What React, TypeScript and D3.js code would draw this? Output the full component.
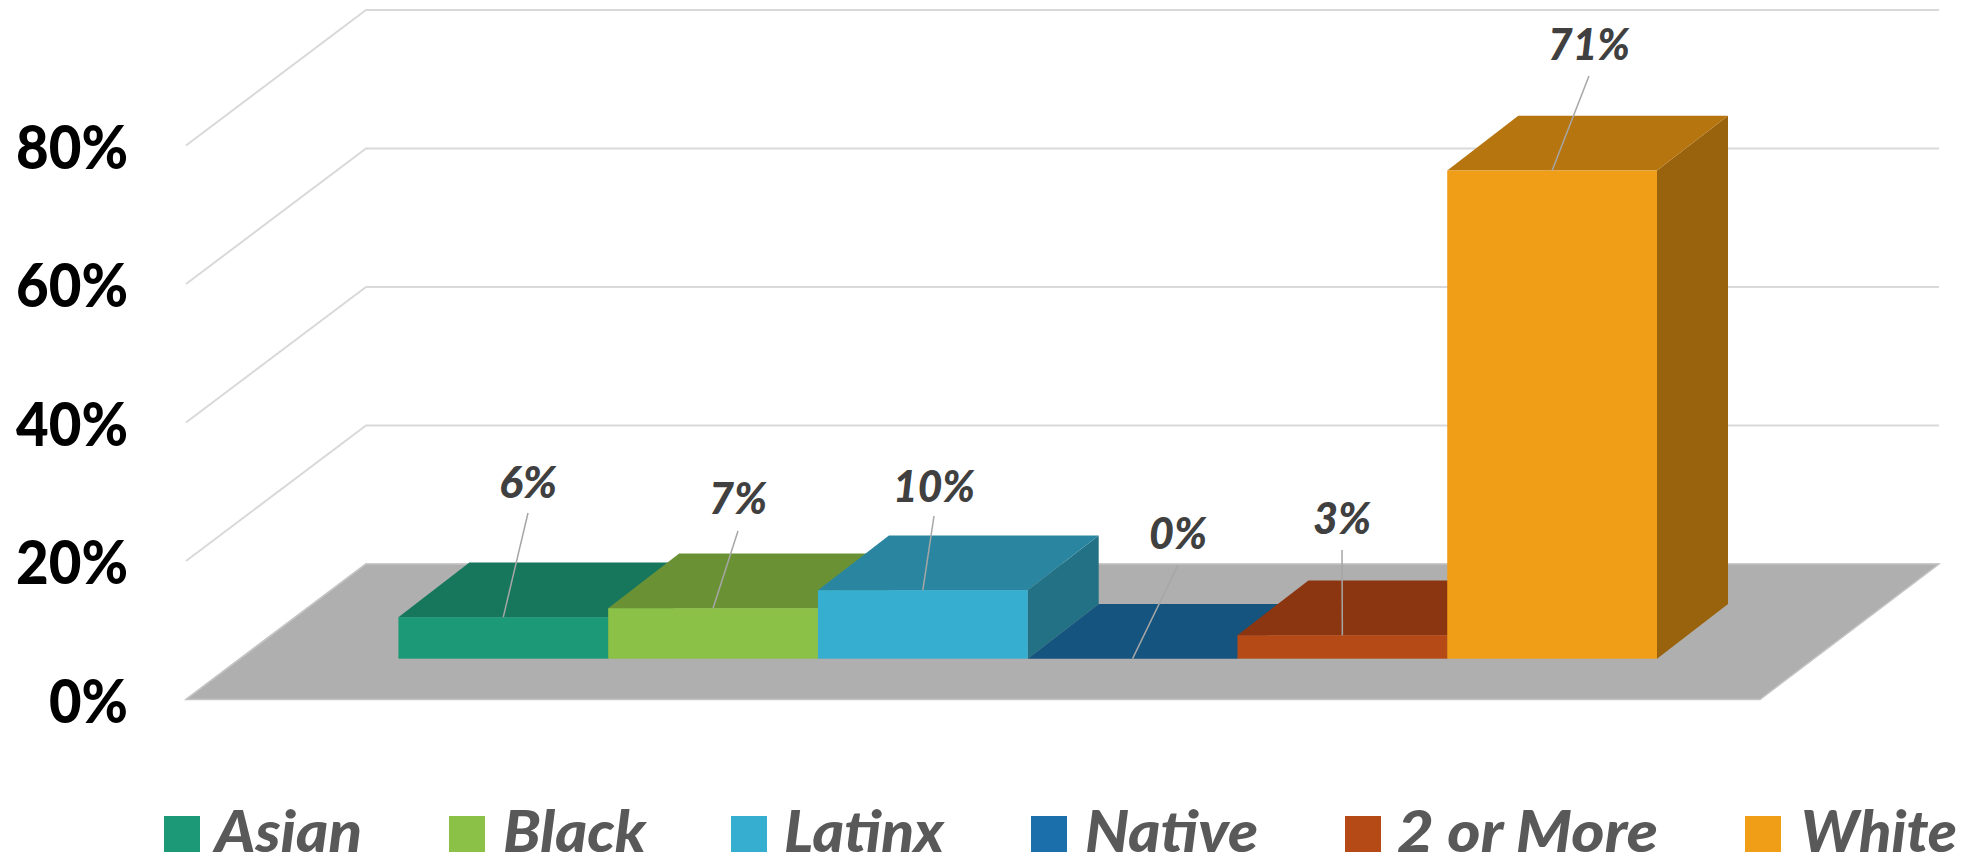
import React from "react";
import * as d3 from "d3";

const categories = ["Asian", "Black", "Latinx", "Native", "2 or More", "White"];
const values = [6, 7.3, 9.9, 0, 3.4, 70.5];
const valueLabels = ["6%", "7%", "10%", "0%", "3%", "71%"];
const axisTicks = [0, 20, 40, 60, 80];
const frontColors = ["#1C9A78", "#8BC146", "#35AED0", "#1B6FAB", "#B64A17", "#F09D17"];
const topColors = ["#17775C", "#6A9235", "#2A86A0", "#15547E", "#8B3610", "#B6750F"];
const sideColors = ["#146650", "#5A7C2D", "#237184", "#124869", "#752E0D", "#98630C"];

// layout only
const labelCenterX = [528, 738, 934, 1178, 1342, 1589];
const labelBaseline = [498, 514, 502, 549, 534, 60];
const labelWidth = [58, 58, 82, 58, 58, 82];
const leaderTopY = [513, 531, 516, 565, 550, 76];
const legendSwatchX = [164, 449, 731, 1031, 1345, 1745];
const legendTextX = [215, 503, 784, 1085, 1397, 1801];
const legendTextW = [147, 143, 160, 173, 261, 156];
const axisTextW = [79, 112, 112, 112, 112];

const W = 1974, H = 856;
const y = d3.scaleLinear().domain([0, 100]).range([658.7, -33.8]);
const x = d3.scaleBand<string>().domain(categories).range([398.4, 1657]).paddingInner(0).paddingOuter(0);
const barDX = 71, barDY = 54.7;
const floorFrontY = 699.5, floorBackY = 564, pxPerPct = 6.925;
const gridX0 = 186, gridX1 = 366, gridX2 = 1939, floorFrontRight = 1760;
const line = d3.line();
const poly = (pts: [number, number][]) => line(pts)! + "Z";
const font = "Lato, 'Open Sans', sans-serif";

export default function App() {
  return (
    <svg width={W} height={H} viewBox={`0 0 ${W} ${H}`}
      style={{ position: "absolute", left: 0, top: 0, display: "block", background: "#fff" }}>
      {/* walls */}
      {axisTicks.map((t) => {
        const f = floorFrontY - t * pxPerPct, b = floorBackY - t * pxPerPct;
        return <path key={t} d={line([[gridX0, f], [gridX1, b], [gridX2, b]])!} fill="none" stroke="#D9D9D9" strokeWidth={2} />;
      })}
      {/* floor */}
      <path d={poly([[gridX0, floorFrontY], [floorFrontRight, floorFrontY], [gridX2, floorBackY], [gridX1, floorBackY]])}
        fill="#AFAFAF" stroke="#C4C4C4" strokeWidth={1.5} />
      {/* bars */}
      {categories.map((c, i) => {
        const x0 = x(c)!, x1 = x0 + x.bandwidth();
        const yb = y(0), yt = y(values[i]);
        return (
          <g key={c}>
            <path d={poly([[x1, yb], [x1 + barDX, yb - barDY], [x1 + barDX, yt - barDY], [x1, yt]])} fill={sideColors[i]} />
            <path d={poly([[x0, yt], [x1, yt], [x1 + barDX, yt - barDY], [x0 + barDX, yt - barDY]])} fill={topColors[i]} />
            {values[i] > 0 && <rect x={x0} y={yt} width={x.bandwidth()} height={yb - yt} fill={frontColors[i]} />}
          </g>
        );
      })}
      {/* leaders */}
      {categories.map((c, i) => (
        <path key={c} d={line([[labelCenterX[i], leaderTopY[i]], [x(c)! + x.bandwidth() / 2, y(values[i])]])!}
          stroke="#A6A6A6" strokeWidth={1.5} fill="none" />
      ))}
      {/* value labels */}
      {valueLabels.map((l, i) => (
        <text key={l} x={labelCenterX[i]} y={labelBaseline[i]} textAnchor="middle" fontFamily={font}
          fontWeight={900} fontStyle="italic" fontSize={44} fill="#404040"
          textLength={labelWidth[i]} lengthAdjust="spacingAndGlyphs">{l}</text>
      ))}
      {/* axis labels */}
      {axisTicks.map((t, i) => (
        <text key={t} x={128} y={floorFrontY - t * pxPerPct + 23} textAnchor="end" fontFamily={font}
          fontWeight={900} fontSize={60} fill="#000"
          textLength={axisTextW[i]} lengthAdjust="spacingAndGlyphs">{d3.format("d")(t)}%</text>
      ))}
      {/* legend */}
      {categories.map((c, i) => (
        <g key={c}>
          <rect x={legendSwatchX[i]} y={816} width={36} height={36} fill={frontColors[i]} />
          <text x={legendTextX[i]} y={852} fontFamily={font} fontWeight={900} fontStyle="italic" fontSize={58}
            fill="#595959" textLength={legendTextW[i]} lengthAdjust="spacingAndGlyphs">{c}</text>
        </g>
      ))}
    </svg>
  );
}
